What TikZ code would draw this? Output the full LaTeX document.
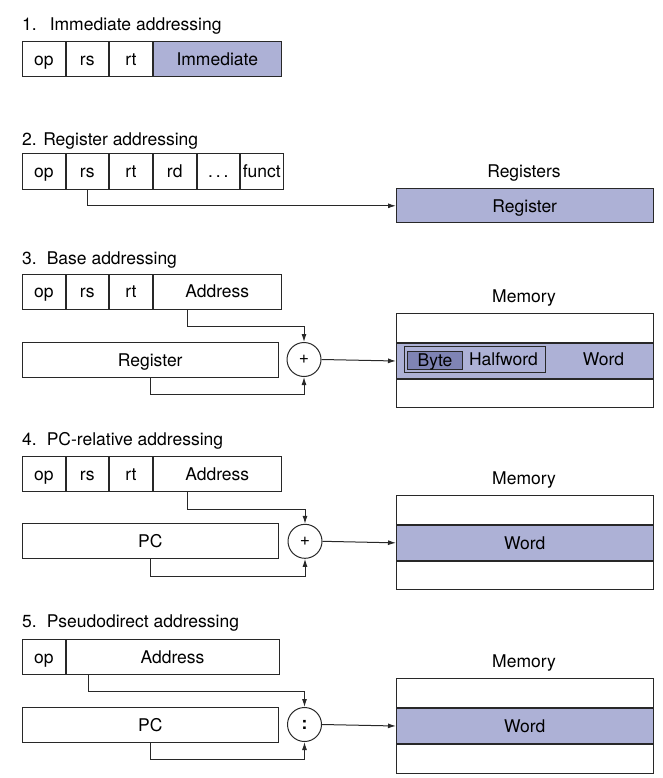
\documentclass[tikz,border=0pt]{standalone}
\usepackage{fontspec}
\setmainfont{TeX Gyre Heros}
\usetikzlibrary{arrows.meta}
\definecolor{regfill}{HTML}{ADB1D6}
\definecolor{bytefill}{HTML}{7F84B4}
\definecolor{edge}{HTML}{282828}

\begin{document}
\begin{tikzpicture}[x=1pt, y=-1pt,
    font=\fontsize{17.5}{20}\selectfont,
    field/.style={draw=edge, line width=1pt, anchor=north west, inner sep=0pt,
      minimum height=35pt, text height=12.5pt, text depth=0pt},
    shaded/.style={field, fill=regfill},
    adder/.style={draw=edge, line width=1pt, circle, minimum size=34pt, inner sep=0pt},
    title/.style={anchor=base west, inner sep=0pt},
    caption/.style={anchor=base, inner sep=0pt},
    link/.style={draw=edge, line width=1pt, -{Latex[length=8pt,width=5pt]}}]
    \useasboundingbox (0,0) rectangle (663,778);

    % 1. Immediate addressing
    \node[title] (t1) at (22,31) {1.\hspace{13pt}Immediate addressing};
    \node[field, minimum width=42.5pt] (op1) at (22,41) {op};
    \node[field, minimum width=42.5pt] (rs1) at (op1.north east) {rs};
    \node[field, minimum width=43pt] (rt1) at (rs1.north east) {rt};
    \node[shaded, minimum width=127.5pt] (imm1) at (rt1.north east) {Immediate};

    % 2. Register addressing
    \node[title] (t2) at (22,145.5) {2. Register addressing};
    \node[field, minimum width=42.5pt] (op2) at (22,153.5) {op};
    \node[field, minimum width=42.5pt] (rs2) at (op2.north east) {rs};
    \node[field, minimum width=43pt] (rt2) at (rs2.north east) {rt};
    \node[field, minimum width=42.5pt] (rd2) at (rt2.north east) {rd};
    \node[field, minimum width=42.5pt] (dots2) at (rd2.north east) {.\,.\,.};
    \node[field, minimum width=42.5pt] (fn2) at (dots2.north east) {funct};
    \node[caption] (regs2) at (524,177.7) {Registers};
    \node[shaded, minimum width=256.5pt, minimum height=34pt] (reg2) at (396,188.3) {Register};
    \draw[link] (rs2.south) |- (reg2.west);

    % 3. Base addressing
    \node[title] (t3) at (22,264) {3.\hspace{10pt}Base addressing};
    \node[field, minimum width=42.5pt] (op3) at (22,273.5) {op};
    \node[field, minimum width=42.5pt] (rs3) at (op3.north east) {rs};
    \node[field, minimum width=43pt] (rt3) at (rs3.north east) {rt};
    \node[field, minimum width=127.5pt] (addr3) at (rt3.north east) {Address};
    \node[field, minimum width=255.5pt] (reg3) at (22,342) {Register};
    \node[adder] (add3) at (304,359.5) {+};
    \node[caption] (mem3) at (524,302) {Memory};
    \node[field, minimum width=256.5pt, minimum height=29pt] (top3) at (396,313.3) {};
    \node[shaded, minimum width=256.5pt, minimum height=34.4pt] (word3) at (top3.south west) {};
    \node[field, minimum width=256.5pt, minimum height=28.3pt] (bot3) at (word3.south west) {};
    \node[shaded, minimum width=141.5pt, minimum height=25.7pt] (half3) at (403.5,346) {};
    \node[field, fill=bytefill, minimum width=54.4pt, minimum height=18.3pt] (byte3) at (407.3,350.7) {Byte};
    \node (hw3) at (503.5,359.5) {Halfword};
    \node (wd3) at (603.5,359.5) {Word};
    \draw[link] ([xshift=-29.75pt]addr3.south) -- ++(0,17) -| (add3.north);
    \draw[link] (reg3.south) -- ++(0,16) -| (add3.south);
    \draw[link] (add3.east) -- (word3.west);

    % 4. PC-relative addressing
    \node[title] (t4) at (22,445.7) {4.\hspace{10pt}PC-relative addressing};
    \node[field, minimum width=42.5pt] (op4) at (22,456) {op};
    \node[field, minimum width=42.5pt] (rs4) at (op4.north east) {rs};
    \node[field, minimum width=43pt] (rt4) at (rs4.north east) {rt};
    \node[field, minimum width=127.5pt] (addr4) at (rt4.north east) {Address};
    \node[field, minimum width=255.5pt] (pc4) at (22,523.3) {PC};
    \node[adder] (add4) at (305,541.3) {+};
    \node[caption] (mem4) at (524,484) {Memory};
    \node[field, minimum width=256.5pt, minimum height=29pt] (top4) at (396,495) {};
    \node[shaded, minimum width=256.5pt, minimum height=34.7pt] (word4) at (top4.south west) {Word};
    \node[field, minimum width=256.5pt, minimum height=28.3pt] (bot4) at (word4.south west) {};
    \draw[link] ([xshift=-29.75pt]addr4.south) -- ++(0,17) -| (add4.north);
    \draw[link] (pc4.south) -- ++(0,16.7) -| (add4.south);
    \draw[link] (add4.east) -- (word4.west);

    % 5. Pseudodirect addressing
    \node[title] (t5) at (22,627) {5.\hspace{10pt}Pseudodirect addressing};
    \node[field, minimum width=42.5pt] (op5) at (22,639.3) {op};
    \node[field, minimum width=213pt] (addr5) at (op5.north east) {Address};
    \node[field, minimum width=255.5pt] (pc5) at (22,707.3) {PC};
    \node[adder] (add5) at (304.5,724.5) {\textbf{:}};
    \node[caption] (mem5) at (524,667) {Memory};
    \node[field, minimum width=256.5pt, minimum height=29pt] (top5) at (396,678) {};
    \node[shaded, minimum width=256.5pt, minimum height=35pt] (word5) at (top5.south west) {Word};
    \node[field, minimum width=256.5pt, minimum height=28.7pt] (bot5) at (word5.south west) {};
    \draw[link] ([xshift=-83.7pt]addr5.south) -- ++(0,16.5) -| (add5.north);
    \draw[link] (pc5.south) -- ++(0,16) -| (add5.south);
    \draw[link] (add5.east) -- (word5.west);
\end{tikzpicture}
\end{document}
